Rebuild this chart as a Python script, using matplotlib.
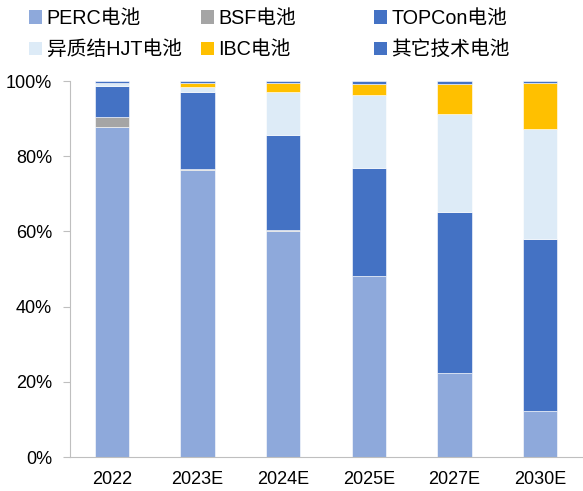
import matplotlib.pyplot as plt
import numpy as np
from matplotlib.patches import Patch
from matplotlib.ticker import FuncFormatter

plt.rcParams['font.family'] = ['Liberation Sans', 'Noto Sans CJK SC', 'DejaVu Sans']

years = ['2022', '2023E', '2024E', '2025E', '2027E', '2030E']
names = ['PERC电池', 'BSF电池', 'TOPCon电池', '异质结HJT电池', 'IBC电池', '其它技术电池']
perc = [87.8, 76.3, 60.1, 48.1, 22.3, 12.2]
bsf = [2.6, 0.3, 0.3, 0.0, 0.0, 0.0]
topcon = [8.3, 20.5, 25.2, 28.7, 42.9, 45.8]
hjt = [0.8, 1.4, 11.6, 19.4, 26.0, 29.2]
ibc = [0.0, 0.9, 2.2, 3.0, 8.0, 12.2]
other = [0.5, 0.6, 0.6, 0.8, 0.8, 0.6]

colors = ['#8EA9DB', '#A5A5A5', '#4472C4', '#DDEBF7', '#FFC000', '#4472C4']
series = [perc, bsf, topcon, hjt, ibc, other]

fig = plt.figure(figsize=(5.83, 4.91), dpi=100)
ax = fig.add_axes([70 / 583, 34 / 491, 513 / 583, 376 / 491])

x = np.arange(len(years))
bottom = np.zeros(len(years))
for vals, c in zip(series, colors):
    ax.bar(x, vals, 0.4, bottom=bottom, color=c, edgecolor='white', linewidth=0.4)
    bottom += np.array(vals)

ax.set_ylim(0, 100)
ax.set_xlim(-0.49, 5.5)
ax.set_yticks(range(0, 101, 20))
ax.yaxis.set_major_formatter(FuncFormatter(lambda v, p: f'{int(v)}%'))
ax.set_xticks(x)
ax.set_xticklabels(years)
ax.tick_params(axis='y', labelsize=13, color='#BFBFBF', length=5, direction='out', pad=8)
ax.tick_params(axis='x', labelsize=13, length=0, pad=10)
for s in ['top', 'right']:
    ax.spines[s].set_visible(False)
ax.spines['left'].set_color('#BFBFBF')
ax.spines['bottom'].set_color('#BFBFBF')

# legend: three columns placed by hand, row-wise order as in the source
handles = [Patch(facecolor=c, edgecolor='none') for c in colors]
col_x = [15 / 583, 187 / 583, 360 / 583]
for i, cx in enumerate(col_x):
    leg = fig.legend([handles[i], handles[i + 3]], [names[i], names[i + 3]],
                     loc='upper left', bbox_to_anchor=(cx, 1.01), ncol=1,
                     frameon=False, fontsize=14.2, handlelength=0.65, handleheight=0.65,
                     handletextpad=0.25, labelspacing=0.62, borderpad=0.2)

fig.savefig('out.png', dpi=100)
